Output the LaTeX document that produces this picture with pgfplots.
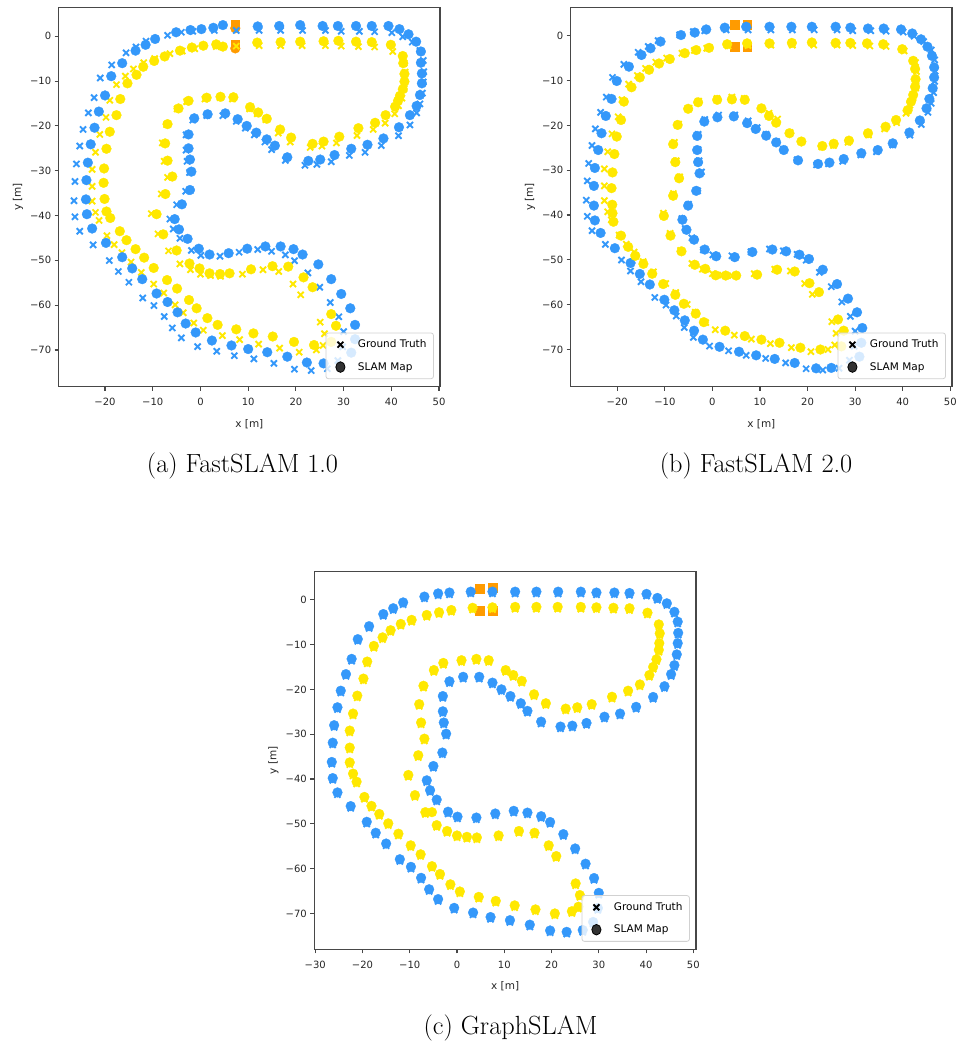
\documentclass[border=0pt]{standalone}
\usepackage{fontspec}
\usepackage{pgfplots}
\usepackage{pgfplotstable}
\pgfplotsset{compat=1.18}
\newfontfamily\dejavu{DejaVu Sans}
\definecolor{cblue}{RGB}{52,152,250}
\definecolor{cyel}{RGB}{255,232,0}
\definecolor{corg}{RGB}{255,155,0}

% Ground truth (shared by all three runs)
\pgfplotstableread{
x y
-6.9 0.7
-4.0 1.4
-1.6 1.6
2.9 1.8
7.5 1.8
12.3 1.8
16.8 1.8
21.4 1.8
26.2 1.8
29.5 1.6
33.3 1.6
36.5 1.5
40.1 1.3
42.4 0.4
44.4 -0.8
46.0 -2.7
46.7 -4.9
46.8 -7.4
46.7 -9.7
46.5 -12.2
46.0 -14.6
45.3 -16.6
43.9 -19.3
41.5 -21.7
37.9 -23.9
34.5 -25.4
31.2 -26.1
27.4 -27.5
24.4 -28.1
21.9 -28.3
17.8 -27.2
14.9 -24.8
13.5 -23.1
11.3 -21.5
9.4 -20.0
7.5 -18.5
4.7 -17.2
1.3 -17.2
-1.6 -18.2
-3.0 -21.5
-3.0 -24.9
-2.8 -27.4
-2.3 -29.9
-3.1 -34.1
-5.0 -37.1
-6.4 -40.3
-5.7 -42.5
-4.3 -44.6
-1.9 -47.3
0.1 -48.4
4.1 -48.6
8.1 -47.7
12.0 -47.1
14.9 -47.5
17.8 -48.3
19.7 -49.6
22.5 -52.3
25.0 -55.5
27.2 -58.9
29.0 -62.1
30.0 -65.4
29.8 -68.8
28.8 -71.9
26.6 -73.7
23.2 -74.1
19.7 -73.8
15.4 -72.5
11.2 -71.5
7.1 -70.8
3.4 -69.8
-0.6 -68.75
-4.0 -66.8
-5.9 -64.6
-7.6 -62.05
-9.75 -59.6
-12.1 -57.9
-15.0 -54.4
-17.2 -52.0
-19.1 -49.55
-22.5 -46.05
-25.3 -43.0
-26.3 -39.8
-26.5 -36.2
-26.3 -31.9
-26.0 -28.0
-25.3 -24.0
-24.6 -20.3
-23.5 -16.6
-22.3 -13.2
-21.0 -8.8
-18.6 -5.9
-15.6 -3.2
-13.5 -1.9
-11.4 -0.6
}\gtblue

\pgfplotstableread{
x y
3.3 -1.8
7.5 -1.7
12.3 -1.6
16.8 -1.6
21.3 -1.6
26.2 -1.6
29.5 -1.7
33.1 -1.8
36.5 -1.9
40.3 -2.9
42.7 -5.5
42.9 -7.5
42.8 -9.7
42.7 -11.2
42.2 -13.3
41.5 -15.0
40.7 -16.8
38.7 -18.9
36.2 -20.3
32.8 -21.65
28.5 -23.3
25.45 -24.0
23.0 -24.3
18.8 -23.1
16.3 -21.1
13.7 -18.1
11.9 -16.8
10.3 -15.7
6.7 -13.5
4.1 -13.2
0.95 -13.5
-2.9 -14.1
-4.9 -15.7
-7.1 -19.2
-8.0 -23.3
-7.6 -27.4
-6.9 -31.0
-8.2 -34.7
-10.3 -39.1
-8.9 -43.6
-6.7 -47.4
-4.3 -50.3
-2.1 -51.6
0.0 -52.6
2.1 -52.9
4.2 -53.05
8.8 -52.6
13.1 -51.6
16.4 -52.0
19.4 -54.8
21.0 -57.2
25.1 -63.3
26.0 -65.9
25.7 -68.5
24.3 -69.5
20.7 -70.0
16.6 -69.1
12.2 -68.2
8.2 -67.2
4.6 -66.3
0.6 -65.1
-1.4 -63.5
-3.6 -61.2
-5.3 -59.45
-7.7 -56.8
-9.8 -54.8
-12.4 -52.2
-14.55 -49.9
-16.45 -47.8
-18.1 -46.0
-19.6 -44.0
-21.25 -40.6
-22.0 -38.8
-22.7 -36.3
-22.7 -33.0
-22.7 -29.2
-22.0 -25.4
-21.1 -21.4
-19.8 -17.6
-19.0 -13.8
-17.6 -10.3
-15.75 -8.4
-14.05 -6.8
-11.9 -5.4
-9.6 -4.5
-6.4 -3.4
-3.8 -2.8
-1.2 -2.3
}\gtyel

% FastSLAM 1.0 map
\pgfplotstableread{
x y
-21.3 -16.8
-20.0 -13.2
-22.2 -20.4
-23.0 -24.1
-23.6 -28.2
-23.9 -32.1
-24.0 -36.4
-23.8 -39.7
-22.7 -42.9
-19.8 -46.1
-16.4 -49.3
-14.3 -51.8
-12.2 -54.2
-9.2 -57.4
-6.9 -59.3
-4.8 -61.6
-3.1 -64.1
-1.0 -66.1
2.4 -67.9
6.5 -69.0
10.0 -69.8
14.0 -70.5
18.2 -71.5
22.3 -72.8
25.8 -73.0
31.6 -70.6
32.4 -67.6
32.4 -64.4
31.4 -60.7
29.5 -57.5
27.4 -54.2
24.7 -50.9
21.4 -48.7
19.5 -47.5
16.8 -46.9
13.6 -46.9
9.8 -47.4
5.9 -48.4
1.9 -48.7
-0.35 -47.4
-2.7 -45.2
-4.5 -43.1
-5.4 -40.8
-3.9 -37.5
-2.2 -34.3
-1.9 -30.2
-2.2 -27.5
-2.5 -25.0
-2.5 -21.9
-1.3 -18.3
1.5 -17.4
5.2 -17.2
7.8 -18.5
9.7 -20.0
11.7 -21.5
13.9 -23.0
15.6 -24.4
18.2 -27.0
22.6 -27.8
25.1 -27.5
28.1 -26.5
31.6 -25.1
35.0 -24.2
38.35 -22.8
41.6 -20.3
43.9 -17.6
45.3 -15.55
46.0 -13.1
46.4 -10.5
46.4 -8.3
46.2 -5.9
46.2 -3.4
45.2 -1.2
43.6 0.45
41.7 1.6
39.4 2.3
35.9 2.3
32.6 2.3
28.8 2.3
25.6 2.3
20.9 2.5
16.5 2.3
12.0 2.2
4.7 2.5
2.7 1.9
0.2 1.6
-2.1 1.4
-5.1 0.9
-9.5 -0.6
-11.5 -1.9
-13.6 -3.2
-16.4 -6.0
-18.7 -8.9
}\ablue

\pgfplotstableread{
x y
0.6 -2.1
3.3 -1.8
4.7 -2.3
11.9 -1.4
16.8 -1.3
20.9 -1.2
25.8 -1.1
28.9 -1.0
32.6 -1.2
35.9 -1.3
39.9 -1.9
42.4 -4.4
42.5 -6.0
42.75 -8.4
42.75 -10.1
42.4 -11.8
41.8 -13.3
41.4 -14.4
40.8 -15.7
38.8 -17.6
36.6 -19.3
33.1 -20.5
29.1 -22.4
25.8 -23.5
23.5 -24.0
19.0 -22.6
16.7 -20.8
13.9 -18.4
12.1 -17.0
10.4 -15.8
6.9 -13.6
4.2 -13.5
1.3 -13.7
-2.5 -14.4
-4.6 -16.1
-6.9 -19.6
-7.4 -23.9
-6.9 -27.75
-5.9 -31.3
-7.35 -35.2
-9.2 -39.7
-7.8 -44.2
-5.0 -47.8
-2.3 -50.7
-0.2 -51.8
1.9 -52.9
4.1 -53.05
6.1 -52.9
10.6 -52.0
15.1 -51.3
18.4 -51.4
21.6 -53.8
23.5 -56.0
27.4 -62.0
28.4 -64.6
27.4 -68.2
23.8 -68.9
19.6 -68.2
15.15 -67.0
11.1 -66.3
7.5 -65.4
3.6 -64.4
1.45 -62.9
-0.8 -60.7
-2.4 -58.85
-4.9 -56.3
-7.0 -54.4
-9.8 -51.7
-11.8 -49.4
-13.6 -47.5
-15.5 -45.5
-16.9 -43.5
-18.9 -40.55
-19.7 -39.1
-20.1 -36.3
-20.3 -32.7
-20.2 -29.5
-19.7 -25.1
-19.0 -21.3
-17.6 -17.6
-16.8 -14.0
-15.3 -10.5
-13.4 -8.6
-12.0 -6.8
-9.7 -5.5
-7.5 -4.5
-4.3 -3.2
-1.8 -2.5
}\ayel

% FastSLAM 2.0 map
\pgfplotstableread{
x y
-1.3 1.4
2.6 1.8
7.1 2.0
12.0 2.0
16.6 2.0
20.9 2.0
25.9 2.0
29.0 1.8
32.7 1.6
36.0 1.6
39.65 1.4
42.0 0.5
43.85 -0.8
45.2 -2.45
46.15 -4.5
46.6 -7.05
46.6 -9.3
46.3 -11.7
45.6 -14.1
45.0 -16.2
43.6 -18.9
41.4 -21.6
37.9 -24.0
34.75 -25.5
31.3 -26.2
27.6 -27.5
24.6 -28.3
22.2 -28.6
18.0 -27.8
15.0 -25.5
13.4 -23.8
11.3 -22.3
9.1 -20.8
7.3 -19.5
4.5 -18.0
1.05 -18.2
-1.7 -19.15
-3.2 -22.35
-3.2 -25.5
-3.0 -28.2
-2.7 -30.7
-3.4 -34.6
-5.1 -37.9
-6.3 -41.05
-5.45 -43.3
-3.85 -45.5
-1.6 -47.7
0.8 -49.2
4.7 -49.4
8.4 -48.25
12.6 -47.7
15.5 -48.1
18.3 -48.85
20.3 -49.8
23.2 -52.2
26.2 -55.4
28.5 -58.65
30.4 -61.7
31.5 -65.2
31.3 -68.5
30.9 -71.6
25.0 -74.1
21.8 -74.2
17.3 -73.0
13.1 -72.1
9.2 -71.3
5.6 -70.5
1.5 -69.4
-2.0 -67.8
-3.85 -65.8
-5.8 -63.5
-8.0 -61.25
-10.1 -58.9
-13.15 -55.5
-15.25 -53.15
-17.2 -50.7
-20.5 -47.4
-23.5 -44.0
-24.7 -41.2
-24.9 -37.9
-24.9 -33.5
-24.7 -29.5
-24.0 -25.5
-23.3 -21.75
-22.4 -17.9
-21.2 -14.1
-20.1 -10.1
-17.55 -6.9
-14.9 -4.3
-13.0 -2.8
-10.9 -1.3
-6.6 0.15
-3.7 0.7
}\bblue

\pgfplotstableread{
x y
-5.8 -3.9
-3.4 -3.2
-0.7 -2.7
3.1 -1.9
7.3 -1.7
12.0 -1.7
16.7 -1.6
20.9 -1.5
25.9 -1.6
29.0 -1.6
32.5 -1.7
35.9 -1.9
39.9 -3.0
42.2 -5.6
42.6 -7.4
42.7 -9.7
42.6 -11.4
42.2 -13.2
41.75 -14.7
41.05 -16.6
38.6 -18.8
36.4 -20.3
32.7 -21.75
28.7 -23.4
25.5 -24.1
23.1 -24.6
18.7 -23.6
16.2 -21.75
13.4 -19.4
11.9 -17.9
10.3 -16.2
6.8 -14.3
4.1 -14.2
1.0 -14.3
-3.0 -14.85
-5.1 -16.3
-7.3 -19.9
-8.25 -24.2
-7.8 -28.2
-7.0 -31.8
-8.25 -35.7
-10.2 -40.2
-8.8 -44.6
-6.5 -48.1
-3.7 -51.1
-1.5 -52.0
0.7 -53.45
2.8 -53.5
5.0 -53.5
9.4 -53.3
13.6 -52.2
17.3 -52.6
20.4 -55.2
22.4 -57.2
26.4 -63.3
27.6 -65.8
27.1 -69.3
22.7 -70.0
18.5 -69.6
14.1 -68.5
10.3 -67.8
6.8 -67.0
2.7 -65.8
-1.8 -63.9
-3.5 -62.0
-6.0 -59.8
-7.8 -57.8
-10.35 -55.4
-12.65 -53.1
-14.5 -50.9
-16.2 -49.1
-17.7 -47.1
-19.2 -44.6
-20.8 -41.5
-21.0 -39.6
-21.05 -37.7
-21.2 -34.0
-21.0 -30.5
-20.6 -26.4
-20.1 -22.5
-19.2 -18.8
-18.6 -14.7
-17.0 -11.5
-15.25 -9.3
-13.3 -7.6
-11.2 -6.2
-8.95 -5.2
}\byel

% GraphSLAM map: same as ground truth except one inner yellow cone
\pgfplotstableread{
x y
-5.3 -47.4
}\cyelextra

\pgfplotsset{
  slam/.style={
    scale only axis, width=381.3pt, height=379.4pt,
    axis line style={black!72, line width=1.1pt},
    every tick/.style={black!72, line width=1.1pt},
    tick align=outside, major tick length=4pt, tick pos=left,
    ytick={-70,-60,...,0},
    yticklabels={−70,−60,−50,−40,−30,−20,−10,0},
    tick label style={font=\dejavu\fontsize{10}{12}\selectfont, text=black!85},
    xticklabel style={yshift=-4pt},
    label style={font=\dejavu\fontsize{10.5}{12}\selectfont, text=black!85},
    xlabel={x [m]}, ylabel={y [m]},
    xlabel style={at={(axis description cs:0.5,-0.0985)}, anchor=center},
    ylabel style={at={(axis description cs:-0.1067,0.5)}, anchor=center},
    legend style={at={(0.984,0.02)}, anchor=south east,
      font=\dejavu\fontsize{10.5}{12.5}\selectfont,
      fill=white, fill opacity=0.8, text opacity=1, draw opacity=1,
      draw=black!18, line width=0.8pt, rounded corners=2.5pt,
      inner sep=5pt, row sep=9pt},
    legend cell align=left,
  },
  legimg/.style={legend image code/.code={%
       \path[draw=none,fill=none] (0pt,-2pt) rectangle (25pt,2pt);
       \draw[mark repeat=2,mark phase=2,##1]
       plot coordinates {(0pt,0pt) (9.5pt,0pt) (25pt,0pt)};}},
  gtx/.style={forget plot, only marks, mark=x, mark size=4.3pt, line width=1.9pt,
    color=#1, mark options={yshift=-2.2pt}},
  mapo/.style={forget plot, only marks, mark=*, mark size=4.9pt, line width=0.3pt, color=#1},
  orsq/.style={forget plot, only marks, mark=square*, mark size=4.3pt, line width=0.3pt, color=corg},
}

\newcommand{\slamlegend}{%
  \addlegendimage{only marks, mark=x, black, mark size=4.2pt, line width=1.9pt, legimg}
  \addlegendentry{Ground Truth}
  \addlegendimage{only marks, mark=*, black, mark size=4.6pt, mark options={yscale=1.15}, legimg}
  \addlegendentry{SLAM Map}
}

\begin{document}
\begin{tikzpicture}
\useasboundingbox (0pt,0pt) rectangle (960pt,-1045pt);

% (a) FastSLAM 1.0
\begin{axis}[slam, at={(58.7pt,-7.3pt)}, anchor=north west,
  xmin=-29.71, xmax=50.2, ymin=-78.2, ymax=6.47,
  xtick={-20,-10,...,50}, xticklabels={−20,−10,0,10,20,30,40,50}]
\addplot[orsq] coordinates {(7.3,2.6) (7.3,-1.9)};
\addplot[mapo=corg] coordinates {(7.3,1.8) (7.3,-2.7)};
\addplot[gtx=cblue] table {\gtblue};
\addplot[gtx=cyel] table {\gtyel};
\addplot[mapo=cblue] table {\ablue};
\addplot[mapo=cyel] table {\ayel};
\slamlegend
\end{axis}

% (b) FastSLAM 2.0
\begin{axis}[slam, at={(570.7pt,-7.3pt)}, anchor=north west,
  xmin=-29.78, xmax=50.36, ymin=-78.3, ymax=6.34,
  xtick={-20,-10,...,50}, xticklabels={−20,−10,0,10,20,30,40,50}]
\addplot[orsq] coordinates {(4.7,2.5) (7.3,2.5) (4.7,-2.45) (7.3,-2.45)};
\addplot[gtx=cblue] table {\gtblue};
\addplot[gtx=cyel] table {\gtyel};
\addplot[mapo=cblue] table {\bblue};
\addplot[mapo=cyel] table {\byel};
\slamlegend
\end{axis}

% (c) GraphSLAM
\begin{axis}[slam, at={(314.3pt,-571.7pt)}, anchor=north west, width=381.7pt, height=377.6pt,
  xmin=-30.2, xmax=50.57, ymin=-78.0, ymax=6.25,
  xtick={-30,-20,...,50}, xticklabels={−30,−20,−10,0,10,20,30,40,50}]
\addplot[orsq] coordinates {(4.8,2.5) (7.5,2.7) (4.8,-2.45) (7.5,-2.45)};
\addplot[gtx=cblue] table {\gtblue};
\addplot[gtx=cyel] table {\gtyel};
\addplot[mapo=cblue] table {\gtblue};
\addplot[mapo=cyel] table {\gtyel};
\addplot[mapo=cyel] table {\cyelextra};
\slamlegend
\end{axis}

\node[font=\fontsize{26.3}{30}\selectfont, anchor=base] at (242.5pt,-472.5pt) {(a) FastSLAM 1.0};
\node[font=\fontsize{26.3}{30}\selectfont, anchor=base] at (756pt,-472.5pt) {(b) FastSLAM 2.0};
\node[font=\fontsize{26.3}{30}\selectfont, anchor=base] at (510.5pt,-1034pt) {(c) GraphSLAM};
\end{tikzpicture}
\end{document}
